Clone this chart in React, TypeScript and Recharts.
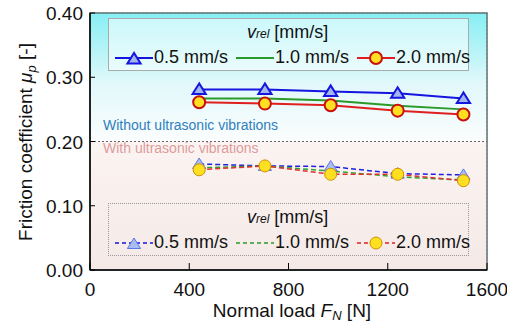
import React from 'react';
import { LineChart, Line, XAxis, YAxis, CartesianGrid, ReferenceArea, ReferenceLine } from 'recharts';

const loads = [440, 705, 970, 1240, 1505];
const noVib05 = [0.281, 0.281, 0.278, 0.275, 0.267];
const noVib10 = [0.267, 0.267, 0.264, 0.2555, 0.25];
const noVib20 = [0.261, 0.259, 0.2565, 0.248, 0.242];
const vib05 = [0.165, 0.162, 0.161, 0.15, 0.148];
const vib10 = [0.159, 0.162, 0.154, 0.145, 0.14];
const vib20 = [0.156, 0.162, 0.149, 0.149, 0.139];
const xTicks = [0, 400, 800, 1200, 1600];
const yTicks = [0, 0.1, 0.2, 0.3, 0.4];
const speedLabels = ['0.5 mm/s', '1.0 mm/s', '2.0 mm/s'];

const data = loads.map((x, i) => ({
  x,
  a05: noVib05[i],
  a10: noVib10[i],
  a20: noVib20[i],
  b05: vib05[i],
  b10: vib10[i],
  b20: vib20[i],
}));

const FONT = '"Liberation Sans", Arial, sans-serif';

const tri = (cx: number, cy: number, s: number) =>
  `${cx},${cy - s} ${cx - s * 1.1},${cy + s * 0.75} ${cx + s * 1.1},${cy + s * 0.75}`;

const TriDot = (stroke: string, fill: string, sw: number) => (p: any) => {
  if (p.cx == null || p.cy == null) return <g key={p.key} />;
  return <polygon key={p.key} points={tri(p.cx, p.cy, 6)} fill={fill} stroke={stroke} strokeWidth={sw} />;
};
const CircDot = (stroke: string, fill: string, sw: number) => (p: any) => {
  if (p.cx == null || p.cy == null) return <g key={p.key} />;
  return <circle key={p.key} cx={p.cx} cy={p.cy} r={6} fill={fill} stroke={stroke} strokeWidth={sw} />;
};

const XTick = (p: any) => (
  <g>
    <line x1={p.x} x2={p.x} y1={p.y} y2={p.y - 7} stroke="#000" />
    <text x={p.x} y={p.y + 26} textAnchor="middle" fontSize={19} fontFamily={FONT} fill="#111">
      {p.payload.value}
    </text>
  </g>
);
const YTick = (p: any) => (
  <g>
    <line x1={p.x} x2={p.x + 5} y1={p.y} y2={p.y} stroke="#000" />
    <text x={p.x - 7} y={p.y + 7} textAnchor="end" fontSize={19} fontFamily={FONT} fill="#111">
      {Number(p.payload.value).toFixed(2)}
    </text>
  </g>
);

const VRel = () => (
  <span>
    <i>v</i>
    <i style={{ fontSize: 12 }}>rel</i> [mm/s]
  </span>
);

const LegIcon = ({ color, dashed, marker, mStroke, mFill }: any) => (
  <svg width={40} height={16} style={{ verticalAlign: 'middle' }}>
    <line x1={1} x2={39} y1={8} y2={8} stroke={color} strokeWidth={dashed ? 1.5 : 2} strokeDasharray={dashed ? '4 3' : undefined} />
    {marker === 'tri' && <polygon points={tri(20, 9, 6)} fill={mFill} stroke={mStroke} strokeWidth={dashed ? 1 : 2} />}
    {marker === 'circ' && <circle cx={20} cy={8} r={6} fill={mFill} stroke={mStroke} strokeWidth={dashed ? 1 : 2} />}
  </svg>
);

const Legendbox = ({ top, dashed }: { top: number; dashed: boolean }) => (
  <div
    style={{
      position: 'absolute',
      left: 108,
      top,
      width: 361,
      height: 53,
      boxSizing: 'border-box',
      border: dashed ? '1px dotted #999' : '1px solid #aaa',
      background: dashed ? 'transparent' : 'rgba(255,255,255,0.55)',
      fontFamily: FONT,
      fontSize: 18,
      color: '#111',
    }}
  >
    <div style={{ position: 'absolute', left: 138, top: 3, whiteSpace: 'nowrap' }}>
      <VRel />
    </div>
    <div style={{ position: 'absolute', left: 5, top: 28, whiteSpace: 'nowrap', display: 'flex', alignItems: 'center' }}>
      <LegIcon color="#1515e0" dashed={dashed} marker="tri" mStroke={dashed ? '#5a78e0' : '#1515e0'} mFill={dashed ? '#a9bdf3' : '#a3b6f0'} />
      <span style={{ marginLeft: 0, marginRight: 7 }}>{speedLabels[0]}</span>
      <LegIcon color="#2a9a2a" dashed={dashed} marker="none" />
      <span style={{ marginLeft: 0, marginRight: 7 }}>{speedLabels[1]}</span>
      <LegIcon color="#e02020" dashed={dashed} marker="circ" mStroke={dashed ? '#d09000' : '#c81010'} mFill="#ffe020" />
      <span>{speedLabels[2]}</span>
    </div>
  </div>
);

export default function App() {
  return (
    <div style={{ position: 'absolute', left: 0, top: 0, width: 507, height: 324, background: '#fff', fontFamily: FONT }}>
      <LineChart width={507} height={324} data={data} margin={{ top: 13, right: 20, bottom: 24, left: 0 }}>
        <defs>
          <linearGradient id="gTop" x1="0" y1="0" x2="0" y2="1">
            <stop offset="0%" stopColor="#86eff4" />
            <stop offset="55%" stopColor="#e2f8fa" />
            <stop offset="100%" stopColor="#fbfdfd" />
          </linearGradient>
          <linearGradient id="gBot" x1="0" y1="0" x2="0" y2="1">
            <stop offset="0%" stopColor="#fcf4f2" />
            <stop offset="100%" stopColor="#f4e9e7" />
          </linearGradient>
        </defs>
        <ReferenceArea x1={0} x2={1600} y1={0.2} y2={0.4} fill="url(#gTop)" fillOpacity={1} stroke="none" ifOverflow="hidden" />
        <ReferenceArea x1={0} x2={1600} y1={0} y2={0.2} fill="url(#gBot)" fillOpacity={1} stroke="none" ifOverflow="hidden" />
        <CartesianGrid stroke="#aaa" strokeDasharray="2 2" horizontalValues={yTicks} verticalValues={xTicks} />
        <ReferenceLine y={0.2} stroke="#666" strokeDasharray="2 2" />
        <ReferenceArea x1={0} x2={1600} y1={0} y2={0.4} fill="none" stroke="#5f7474" strokeWidth={1.5} />
        <XAxis
          dataKey="x"
          type="number"
          domain={[0, 1600]}
          ticks={xTicks}
          height={30}
          tickSize={0}
          tickMargin={0}
          tick={<XTick />}
          axisLine={{ stroke: '#000', strokeWidth: 1.5 }}
          tickLine={false}
          label={{
            content: () => (
              <text x={292} y={317} textAnchor="middle" fontSize={19} fontFamily={FONT} fill="#111">
                Normal load <tspan fontStyle="italic">F</tspan>
                <tspan fontStyle="italic" fontSize={13} dy={3}>N</tspan>
                <tspan dy={-3}> [N]</tspan>
              </text>
            ),
          }}
        />
        <YAxis
          type="number"
          domain={[0, 0.4]}
          ticks={yTicks}
          width={90}
          tickSize={0}
          tickMargin={0}
          tick={<YTick />}
          axisLine={{ stroke: '#000', strokeWidth: 1.5 }}
          tickLine={false}
          label={{
            content: () => (
              <text x={32} y={142} transform="rotate(-90 32 142)" textAnchor="middle" fontSize={19} fontFamily={FONT} fill="#111">
                Friction coefficient <tspan fontStyle="italic">μ</tspan>
                <tspan fontStyle="italic" fontSize={13} dy={4}>p</tspan>
                <tspan dy={-4}> [-]</tspan>
              </text>
            ),
          }}
        />
        <Line dataKey="b05" stroke="#2020e0" strokeWidth={1.5} strokeDasharray="5 3" dot={TriDot('#5a78e0', '#a9bdf3', 1)} isAnimationActive={false} />
        <Line dataKey="b10" stroke="#30a030" strokeWidth={1.5} strokeDasharray="5 3" dot={false} isAnimationActive={false} />
        <Line dataKey="b20" stroke="#e03030" strokeWidth={1.5} strokeDasharray="5 3" dot={CircDot('#d09000', '#ffe020', 1)} isAnimationActive={false} />
        <Line dataKey="a05" stroke="#1515e0" strokeWidth={2} dot={TriDot('#1515e0', '#a3b6f0', 2)} isAnimationActive={false} />
        <Line dataKey="a10" stroke="#2a9a2a" strokeWidth={2} dot={false} isAnimationActive={false} />
        <Line dataKey="a20" stroke="#e02020" strokeWidth={2} dot={CircDot('#c81010', '#ffe020', 2)} isAnimationActive={false} />
      </LineChart>
      <div style={{ position: 'absolute', left: 103, top: 117, fontSize: 14, color: '#2f7fc0', whiteSpace: 'nowrap' }}>
        Without ultrasonic vibrations
      </div>
      <div style={{ position: 'absolute', left: 103, top: 140, fontSize: 14, color: '#dc9c9c', whiteSpace: 'nowrap' }}>
        With ultrasonic vibrations
      </div>
      <Legendbox top={18} dashed={false} />
      <Legendbox top={203} dashed={true} />
    </div>
  );
}
